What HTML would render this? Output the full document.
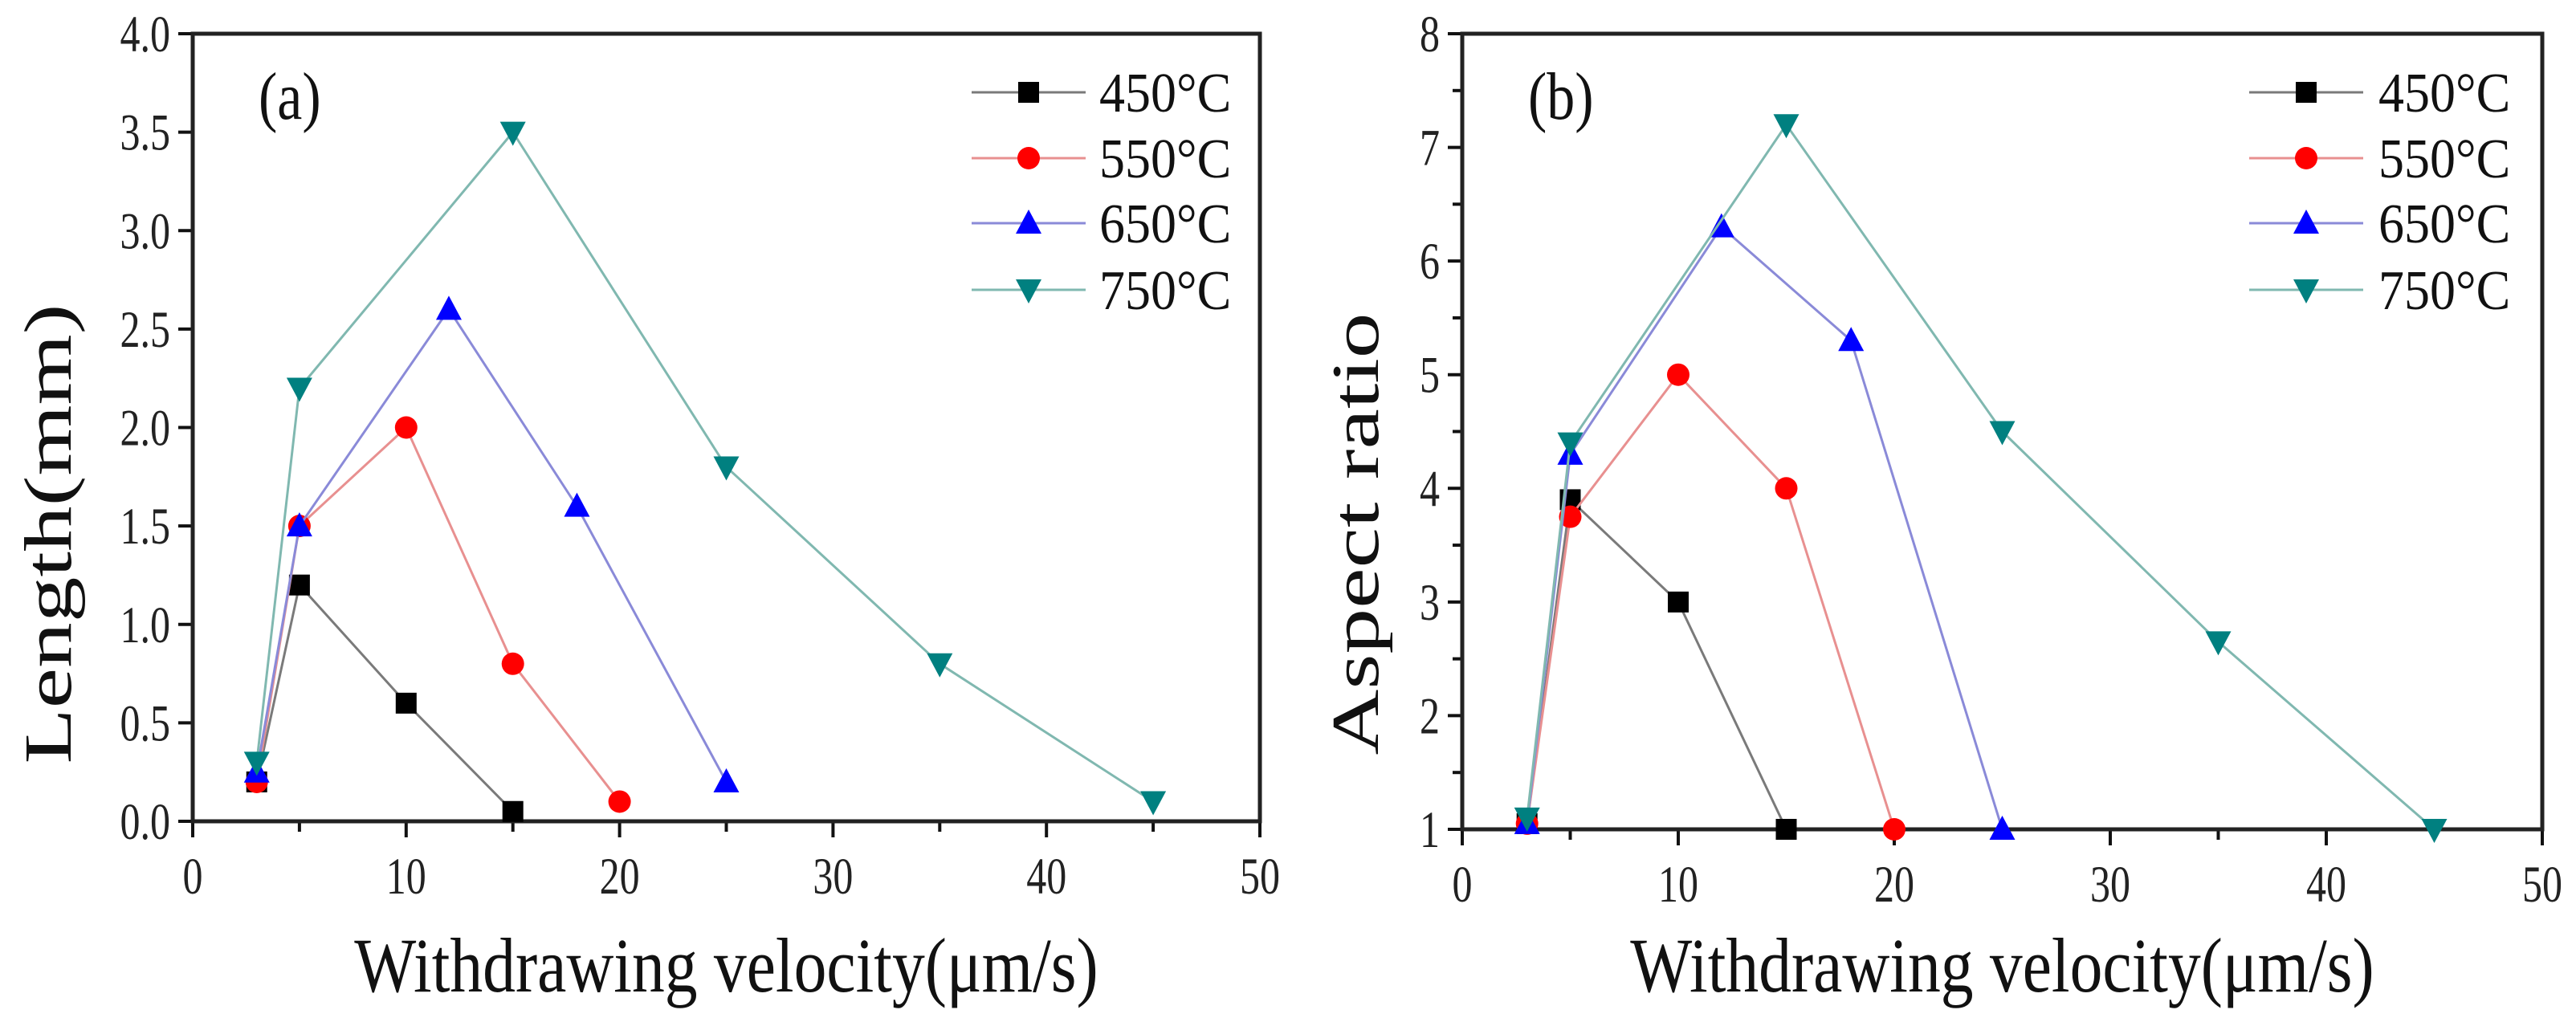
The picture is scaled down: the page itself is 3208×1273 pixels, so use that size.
<!DOCTYPE html>
<html><head><meta charset="utf-8"><style>
html,body{margin:0;padding:0;background:#fff;}
svg{display:block;font-family:"Liberation Serif",serif;}
</style></head><body>
<svg id="fig" width="3208" height="1273" viewBox="0 0 3208 1273" xmlns="http://www.w3.org/2000/svg"></svg>
<script>
const seriesNames = ["450°C","550°C","650°C","750°C"];
const aX450 = [3,5,10,15];          const aY450 = [0.2,1.2,0.6,0.05];
const aX550 = [3,5,10,15,20];       const aY550 = [0.2,1.5,2.0,0.8,0.1];
const aX650 = [3,5,12,18,25];       const aY650 = [0.25,1.5,2.6,1.6,0.2];
const aX750 = [3,5,15,25,35,45];    const aY750 = [0.3,2.2,3.5,1.8,0.8,0.1];
const bX450 = [3,5,10,15];          const bY450 = [1.05,3.9,3.0,1.0];
const bX550 = [3,5,10,15,20];       const bY550 = [1.05,3.75,5.0,4.0,1.0];
const bX650 = [3,5,12,18,25];       const bY650 = [1.05,4.3,6.3,5.3,1.0];
const bX750 = [3,5,15,25,35,45];    const bY750 = [1.1,4.4,7.2,4.5,2.65,1.0];
const xTicks = [0,10,20,30,40,50];
const aYTicks = [0,0.5,1.0,1.5,2.0,2.5,3.0,3.5,4.0];
const bYTicks = [1,2,3,4,5,6,7,8];

const NS="http://www.w3.org/2000/svg";
const svg=document.getElementById('fig');
function mk(tag,attrs,parent){const e=document.createElementNS(NS,tag);for(const k in attrs)e.setAttribute(k,attrs[k]);(parent||svg).appendChild(e);return e;}
const markerCol=["#000000","#ff0000","#0000ff","#008080"];
const lineCol=["#7a7a7a","#e89090","#8a8ad8","#80b8b0"];

function marker(g,k,cx,cy){
  let e;
  if(k===0){e=mk('rect',{x:cx-13,y:cy-13,width:26,height:26,fill:markerCol[0]},g);}
  else if(k===1){e=mk('circle',{cx:cx,cy:cy,r:14,fill:markerCol[1]},g);}
  else if(k===2){e=mk('polygon',{points:`${cx},${cy-17} ${cx-16},${cy+13} ${cx+16},${cy+13}`,fill:markerCol[2]},g);}
  else {e=mk('polygon',{points:`${cx},${cy+17} ${cx-16},${cy-13} ${cx+16},${cy-13}`,fill:markerCol[3]},g);}
  return e;
}

function panel(p){
  const g=mk('g',{});
  
  
  const sx=v=>p.x0+(v-p.xmin)/(p.xmax-p.xmin)*(p.x1-p.x0);
  const sy=v=>p.y0-(v-p.ymin)/(p.ymax-p.ymin)*(p.y0-p.y1);
  xTicks.forEach(t=>{
    const l=mk('line',{x1:sx(t),x2:sx(t),y1:p.y0,y2:p.y0+20,stroke:'#111','stroke-width':4},g);
    
    
    const tx=mk('text',{x:0,y:0,'font-size':50,'text-anchor':'middle',fill:'#222',transform:`translate(${sx(t)},${p.y0+90}) scale(1,1.3)`},g);
    tx.textContent=t;
    
    
  });
  for(let t=5;t<50;t+=10){
    const l=mk('line',{x1:sx(t),x2:sx(t),y1:p.y0,y2:p.y0+13,stroke:'#111','stroke-width':4},g);
    
    
  }
  p.yTicks.forEach(t=>{
    const l=mk('line',{x1:p.x0-18,x2:p.x0,y1:sy(t),y2:sy(t),stroke:'#111','stroke-width':4},g);
    
    
    const tx=mk('text',{x:0,y:0,'font-size':50,'text-anchor':'end',fill:'#222',transform:`translate(${p.x0-28},${sy(t)+22}) scale(1,1.3)`},g);
    tx.textContent=p.fmt(t);
    
    
  });
  if(p.minorY){p.minorY.forEach(t=>{
    const l=mk('line',{x1:p.x0-12,x2:p.x0,y1:sy(t),y2:sy(t),stroke:'#111','stroke-width':4},g);
    
    
  });}
  const fr=mk('rect',{x:p.x0,y:p.y1,width:p.x1-p.x0,height:p.y0-p.y1,fill:'none',stroke:'#222','stroke-width':5},g);
  
  
  p.series.forEach((s,k)=>{
    const sg=mk('g',{},g);
    
    
    const pts=s[0].map((x,i)=>sx(x)+','+sy(s[1][i])).join(' ');
    const pl=mk('polyline',{points:pts,fill:'none',stroke:lineCol[k],'stroke-width':3},sg);
    
    
    s[0].forEach((x,i)=>{
      const m=marker(sg,k,sx(x),sy(s[1][i]));
      
      
    });
  });
  const lg=mk('g',{},g);
  
  
  const rows=[115,197,278,361];
  seriesNames.forEach((n,k)=>{
    const eg=mk('g',{},lg);
    
    
    mk('line',{x1:p.legX-71,x2:p.legX+71,y1:rows[k],y2:rows[k],stroke:lineCol[k],'stroke-width':3},eg);
    marker(eg,k,p.legX,rows[k]);
    const t=mk('text',{x:0,y:0,'font-size':64,fill:'#111',transform:`translate(${p.legT},${rows[k]+24}) scale(1,1.1)`},eg);
    t.textContent=n;
  });
  const pl=mk('text',{x:0,y:0,'font-size':70,fill:'#111',transform:`translate(${p.x0+82},148) scale(1,1.2)`},g);
  pl.textContent=p.label;
  
  
  const xt=mk('text',{x:0,y:0,'font-size':80,'text-anchor':'middle',fill:'#111',transform:`translate(${(p.x0+p.x1)/2},1235) scale(1.02,1.2)`},g);
  xt.textContent='Withdrawing velocity(μm/s)';
  
  
  const yt=mk('text',{x:0,y:0,'font-size':84,'text-anchor':'middle',fill:'#111',transform:`translate(${p.ytX},665) rotate(-90) scale(1.35,1)`},g);
  yt.textContent=p.ytitle;
  
  
}

panel({id:'length',label:'(a)',x0:240,x1:1569,y0:1023,y1:42,xmin:0,xmax:50,ymin:0,ymax:4,
  yTicks:aYTicks,fmt:t=>t.toFixed(1),legX:1281,legT:1369,ytX:88,ytitle:'Length(mm)',
  series:[[aX450,aY450],[aX550,aY550],[aX650,aY650],[aX750,aY750]]});
panel({id:'aspect',label:'(b)',x0:1821,x1:3166,y0:1033,y1:42,xmin:0,xmax:50,ymin:1,ymax:8,
  yTicks:bYTicks,minorY:[1.5,2.5,3.5,4.5,5.5,6.5,7.5],fmt:t=>String(t),legX:2872,legT:2962,ytX:1716,ytitle:'Aspect ratio',
  series:[[bX450,bY450],[bX550,bY550],[bX650,bY650],[bX750,bY750]]});
</script>
</body></html>
